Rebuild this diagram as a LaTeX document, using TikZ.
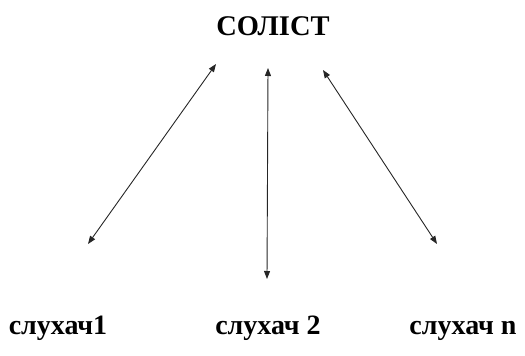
\documentclass[tikz,border=0pt]{standalone}
\usepackage{fontspec}
\setmainfont{Liberation Serif}
\usetikzlibrary{arrows.meta}
\begin{document}
\begin{tikzpicture}[x=1pt,y=-1pt,
  lbl/.style={font=\fontsize{28}{32}\selectfont\bfseries, inner sep=0pt, anchor=base},
  link/.style={draw=black!85, line width=0.9pt, {Triangle[length=8pt,width=6pt]}-{Triangle[length=8pt,width=6pt]}}]
\useasboundingbox (0,0) rectangle (525,356);
\node[lbl, font=\fontsize{28.5}{32}\selectfont\bfseries] (sol) at (273,35) {СОЛІСТ};
\node[lbl] (s1) at (58,334) {слухач1};
\node[lbl] (s2) at (268,334) {слухач 2};
\node[lbl] (s3) at (463,334) {слухач n};
\coordinate (a1) at (216,64);
\coordinate (b1) at (88,244);
\coordinate (a2) at (268,68);
\coordinate (b2) at (267,279);
\coordinate (a3) at (323,70);
\coordinate (b3) at (437,244);
\draw[link] (b1) -- (a1);
\draw[link] (b2) -- (a2);
\draw[link] (b3) -- (a3);
\end{tikzpicture}
\end{document}
